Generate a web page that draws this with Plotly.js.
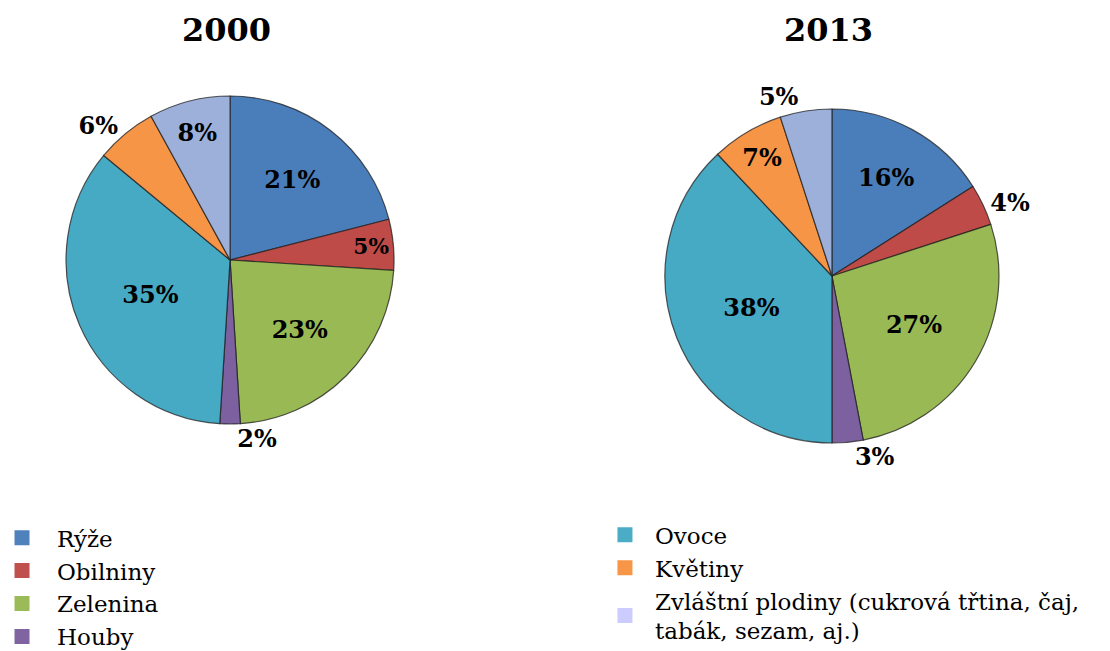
<!DOCTYPE html>
<html>
<head>
<meta charset="utf-8">
<script src="https://cdn.plot.ly/plotly-3.0.1.min.js"></script>
<style>html,body{margin:0;padding:0;background:#fff}#chart{width:1110px;height:651px}</style>
</head>
<body>
<div id="chart"></div>
<script>
const categories = ["Rýže", "Obilniny", "Zelenina", "Houby", "Ovoce", "Květiny", "Zvláštní plodiny (cukrová třtina, čaj,<br>tabák, sezam, aj.)"];
const values2000 = [21, 5, 23, 2, 35, 6, 8];
const values2013 = [16, 4, 27, 3, 38, 7, 5];
const years = ["2000", "2013"];

const sliceColors = ["#4A7EBB", "#BE4B48", "#98B954", "#7D60A0", "#46AAC5", "#F69546", "#9DB0DA"];
const legendColors = ["#4F81BD", "#C0504D", "#9BBB59", "#8064A2", "#4BACC6", "#F79646", "#CCCCFF"];
const pos2000 = ["inside", "inside", "inside", "outside", "inside", "outside", "inside"];
const pos2013 = ["inside", "outside", "inside", "outside", "inside", "inside", "outside"];

const labelFont = {family: "DejaVu Serif", size: 24, color: "#000", weight: "bold"};

function pie(vals, pos, domain) {
  return {
    type: "pie",
    labels: categories,
    values: vals,
    sort: false,
    direction: "clockwise",
    rotation: 0,
    textinfo: "percent",
    texttemplate: "<b>%{percent:.0%}</b>",
    textposition: pos,
    insidetextorientation: "horizontal",
    textfont: labelFont,
    insidetextfont: labelFont,
    outsidetextfont: labelFont,
    marker: {colors: sliceColors, line: {color: "rgba(30,30,30,0.75)", width: 1.2}},
    domain: domain,
    showlegend: false,
    hoverinfo: "label+percent"
  };
}

const traces = [
  pie(values2000, pos2000, {x: [0.0595, 0.355], y: [0.3487, 0.8525]}),
  pie(values2013, pos2013, {x: [0.599, 0.9], y: [0.3195, 0.8326]})
];

categories.forEach((c, i) => {
  traces.push({
    type: "scatter", mode: "markers", x: [null], y: [null],
    name: c,
    marker: {symbol: "square", size: 15, color: legendColors[i], line: {width: 0}},
    legend: i < 4 ? "legend" : "legend2",
    showlegend: true, hoverinfo: "skip"
  });
});

const legendFont = {family: "DejaVu Serif", size: 23, color: "#000"};

const layout = {
  width: 1110, height: 651,
  margin: {l: 0, r: 0, t: 0, b: 0, autoexpand: false},
  paper_bgcolor: "#fff", plot_bgcolor: "#fff",
  xaxis: {visible: false}, yaxis: {visible: false},
  showlegend: true,
  legend: {x: -0.0117, y: 0.207, xanchor: "left", yanchor: "top", font: legendFont, bgcolor: "rgba(0,0,0,0)", itemwidth: 60, tracegroupgap: 0},
  legend2: {x: 0.536, y: 0.2115, xanchor: "left", yanchor: "top", font: legendFont, bgcolor: "rgba(0,0,0,0)", itemwidth: 50, tracegroupgap: 0},
  annotations: [
    {text: "<b>" + years[0] + "</b>", x: 0.204, y: 0.954, xref: "paper", yref: "paper", xanchor: "center", yanchor: "middle", showarrow: false, font: {family: "DejaVu Serif", size: 32, color: "#000"}},
    {text: "<b>" + years[1] + "</b>", x: 0.746, y: 0.954, xref: "paper", yref: "paper", xanchor: "center", yanchor: "middle", showarrow: false, font: {family: "DejaVu Serif", size: 32, color: "#000"}}
  ]
};

Plotly.newPlot("chart", traces, layout, {displayModeBar: false, staticPlot: true});
</script>
</body>
</html>
